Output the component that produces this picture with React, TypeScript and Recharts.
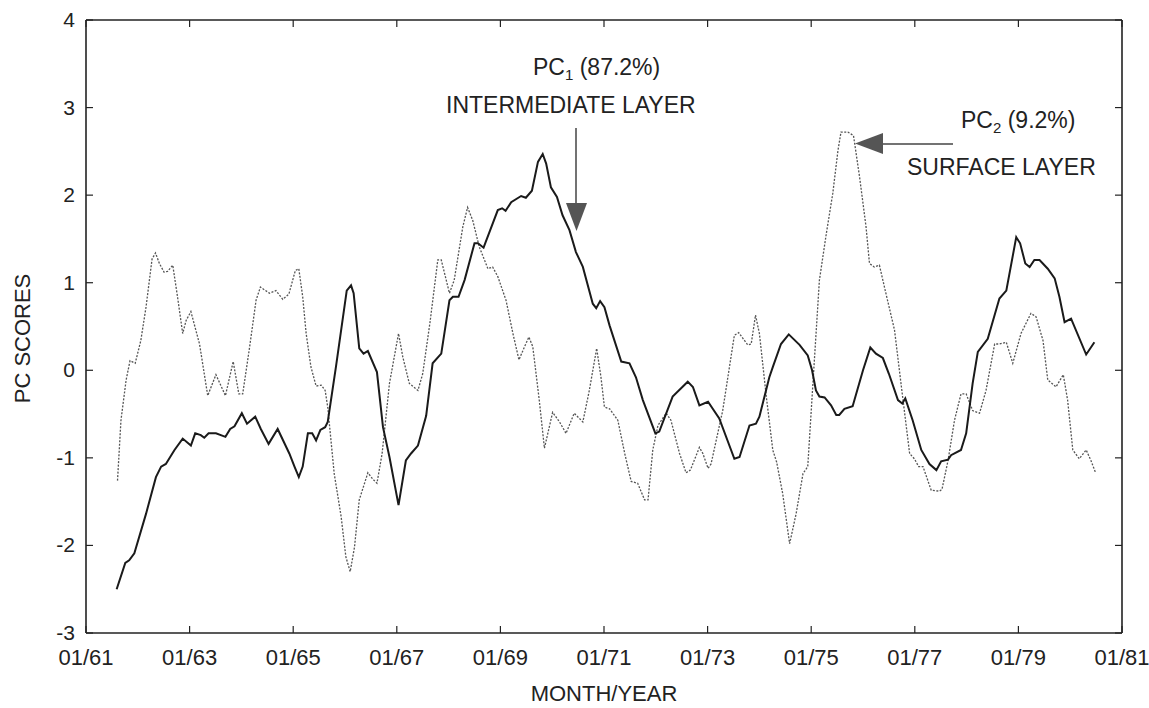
import { LineChart, Line, XAxis, YAxis, Customized } from 'recharts';

// months counted from 01/1961
const pc1Months = [
  7.1, 9.1, 10.0, 11.2, 13.9, 16.2, 17.4, 18.5, 20.5, 22.4, 24.3, 25.3, 26.6, 27.4, 28.4, 30.1,
  32.3, 33.4, 34.4, 36.1, 37.3, 39.2, 40.5, 42.3, 44.4, 47.1, 48.3, 49.3, 50.2, 51.4, 52.4, 53.3,
  54.3, 55.4, 56.0, 57.9, 60.4, 61.4, 62.0, 63.3, 64.3, 65.3, 67.4, 68.8, 70.3, 72.4, 74.1, 75.3,
  76.9, 78.8, 80.3, 82.3, 84.2, 85.0, 86.3, 87.7, 90.0, 90.8, 92.1, 95.4, 96.4, 97.2, 98.5, 100.8,
  101.9, 103.3, 104.7, 105.8, 106.6, 107.7, 109.1, 110.4, 112.0, 113.5, 115.1, 117.4, 118.2, 119.1,
  120.1, 121.3, 124.0, 125.9, 127.4, 129.0, 131.9, 132.8, 135.9, 139.4, 140.6, 142.1, 144.1, 146.7,
  150.2, 151.4, 153.7, 155.2, 156.0, 158.3, 159.2, 161.0, 162.8, 165.3, 167.2, 168.2, 169.1, 169.9,
  171.1, 172.6, 173.8, 174.5, 175.7, 177.6, 180.0, 181.7, 183.0, 184.6, 186.0, 188.1, 189.1, 189.8,
  191.5, 193.5, 195.4, 197.0, 198.1, 199.7, 200.4, 202.7, 203.9, 205.4, 206.6, 208.9, 211.6, 213.2,
  215.5, 216.4, 217.6, 218.6, 219.7, 220.9, 222.8, 224.4, 225.5, 226.7, 228.2, 231.7, 233.6,
];
const pc1Scores = [
  -2.5, -2.2, -2.17, -2.09, -1.64, -1.22, -1.1, -1.07, -0.91, -0.78, -0.86, -0.72, -0.74, -0.77, -0.72, -0.72,
  -0.76, -0.67, -0.64, -0.49, -0.61, -0.53, -0.67, -0.84, -0.67, -0.95, -1.1, -1.22, -1.1, -0.72, -0.72, -0.8,
  -0.68, -0.65, -0.59, 0.04, 0.91, 0.97, 0.88, 0.25, 0.19, 0.22, -0.02, -0.65, -0.99, -1.54, -1.03, -0.95,
  -0.86, -0.52, 0.08, 0.19, 0.8, 0.84, 0.84, 1.03, 1.45, 1.45, 1.4, 1.83, 1.85, 1.82, 1.92, 1.99,
  1.97, 2.05, 2.38, 2.47, 2.36, 2.09, 1.98, 1.77, 1.6, 1.35, 1.18, 0.76, 0.71, 0.79,
  0.72, 0.51, 0.1, 0.08, -0.08, -0.34, -0.72, -0.7, -0.3, -0.13, -0.19, -0.4, -0.36, -0.55,
  -1.01, -0.99, -0.63, -0.61, -0.53, -0.08, 0.05, 0.3, 0.41, 0.29, 0.17, 0.0, -0.23, -0.3,
  -0.31, -0.4, -0.51, -0.51, -0.44, -0.41, 0.0, 0.26, 0.19, 0.14, -0.04, -0.34, -0.38, -0.32,
  -0.57, -0.91, -1.07, -1.14, -1.04, -1.02, -0.97, -0.91, -0.72, -0.15, 0.21, 0.36, 0.82, 0.91,
  1.52, 1.45, 1.22, 1.18, 1.26, 1.26, 1.16, 1.05, 0.84, 0.55, 0.59, 0.18, 0.32,
];

const pc2Months = [
  7.3, 8.1, 9.3, 10.2, 11.4, 12.7, 13.9, 15.3, 16.1, 17.0, 18.1, 18.9, 20.1, 21.2, 22.4, 23.2,
  24.3, 26.3, 28.2, 30.1, 32.3, 34.1, 35.4, 36.3, 37.8, 39.4, 40.4, 42.5, 44.0, 45.6, 47.0, 48.5,
  49.3, 50.2, 51.0, 52.1, 53.3, 54.5, 55.4, 56.0, 57.5, 59.1, 60.2, 61.2, 62.2, 63.3, 65.3, 66.4,
  67.4, 68.6, 70.3, 72.4, 73.4, 74.9, 76.9, 78.0, 79.7, 81.5, 82.3, 84.2, 85.3, 87.3, 88.4, 89.6,
  91.1, 93.1, 94.2, 95.4, 97.3, 98.9, 100.3, 101.6, 102.6, 103.5, 105.0, 106.2, 108.1, 109.7, 111.2,
  113.1, 115.1, 116.6, 118.3, 119.3, 120.1, 121.3, 123.2, 124.8, 126.3, 127.8, 129.4, 130.2, 131.3,
  132.5, 134.4, 135.5, 137.5, 139.0, 140.0, 142.1, 142.9, 144.1, 144.8, 147.5, 150.2, 151.2, 153.3,
  154.1, 155.1, 156.0, 157.6, 159.1, 160.0, 161.4, 163.0, 164.5, 166.1, 167.2, 168.4, 169.9, 171.5,
  173.0, 174.2, 174.9, 176.5, 177.8, 179.2, 180.7, 181.5, 182.6, 183.8, 185.3, 187.3, 188.8, 190.8,
  191.9, 192.9, 193.9, 195.8, 197.7, 198.3, 199.7, 201.2, 202.7, 203.9, 205.4, 207.0, 208.5, 210.5,
  211.6, 213.2, 214.7, 216.6, 218.9, 220.1, 221.7, 222.8, 224.7, 226.4, 227.4, 228.6, 230.1, 231.7,
  232.8, 233.8,
];
const pc2Scores = [
  -1.26, -0.57, -0.11, 0.11, 0.08, 0.34, 0.72, 1.27, 1.34, 1.22, 1.12, 1.13, 1.2, 0.84, 0.42, 0.57,
  0.67, 0.3, -0.29, -0.05, -0.29, 0.1, -0.27, -0.27, 0.23, 0.8, 0.95, 0.88, 0.91, 0.81, 0.87, 1.14,
  1.16, 0.84, 0.42, 0.04, -0.18, -0.17, -0.23, -0.42, -1.18, -1.67, -2.13, -2.3, -2.02, -1.48, -1.17, -1.24,
  -1.29, -0.95, -0.15, 0.42, 0.15, -0.15, -0.23, -0.04, 0.55, 1.26, 1.26, 0.88, 1.03, 1.64, 1.86, 1.71,
  1.41, 1.16, 1.18, 1.07, 0.8, 0.42, 0.12, 0.27, 0.38, 0.27, -0.34, -0.89, -0.48, -0.59, -0.72,
  -0.49, -0.59, -0.23, 0.25, -0.08, -0.42, -0.44, -0.57, -0.95, -1.27, -1.29, -1.48, -1.48, -0.91,
  -0.63, -0.49, -0.57, -0.95, -1.17, -1.14, -0.88, -0.95, -1.12, -1.07, -0.46, 0.4, 0.43, 0.29,
  0.3, 0.63, 0.42, -0.3, -0.91, -1.05, -1.41, -1.98, -1.64, -1.18, -1.1, -0.15, 1.03, 1.56,
  2.02, 2.51, 2.72, 2.72, 2.68, 2.21, 1.64, 1.22, 1.18, 1.2, 0.88, 0.46, -0.15, -0.95,
  -1.01, -1.1, -1.1, -1.37, -1.38, -1.36, -1.03, -0.57, -0.27, -0.27, -0.46, -0.49, -0.23, 0.3,
  0.3, 0.32, 0.08, 0.42, 0.65, 0.61, 0.34, -0.11, -0.19, -0.05, -0.34, -0.91, -1.01, -0.91,
  -1.03, -1.16,
];

const monthTicks = [0, 24, 48, 72, 96, 120, 144, 168, 192, 216, 240];
const scoreTicks = [-3, -2, -1, 0, 1, 2, 3, 4];

const pc1Data = pc1Months.map((m, i) => ({ m, v: pc1Scores[i] }));
const pc2Data = pc2Months.map((m, i) => ({ m, v: pc2Scores[i] }));

const FONT = '"Liberation Sans", Arial, sans-serif';
const INK = '#222';
const TICK = 7;

const fmtMonth = (m: number) => `01/${61 + Math.round(m / 12)}`;

function BottomTick({ x, y, payload }: any) {
  return (
    <g>
      <line x1={x} y1={y} x2={x} y2={y - TICK} stroke={INK} strokeWidth={1.2} />
      <text x={x} y={y + 32} textAnchor="middle" fontFamily={FONT} fontSize={22} fill={INK}>
        {fmtMonth(payload.value)}
      </text>
    </g>
  );
}

function TopTick({ x, y }: any) {
  return <line x1={x} y1={y} x2={x} y2={y + TICK} stroke={INK} strokeWidth={1.2} />;
}

function LeftTick({ x, y, payload }: any) {
  return (
    <g>
      <line x1={x} y1={y} x2={x + TICK} y2={y} stroke={INK} strokeWidth={1.2} />
      <text x={x - 11} y={y + 7} textAnchor="end" fontFamily={FONT} fontSize={21} fill={INK}>
        {payload.value}
      </text>
    </g>
  );
}

function RightTick({ x, y }: any) {
  return <line x1={x} y1={y} x2={x - TICK} y2={y} stroke={INK} strokeWidth={1.2} />;
}

function Annotations() {
  const txt = { fontFamily: FONT, fontSize: 23, fill: INK };
  return (
    <g>
      <text x={533} y={75} {...txt}>
        PC<tspan fontSize={15} dy={5}>1</tspan>
        <tspan dy={-5}> (87.2%)</tspan>
      </text>
      <text x={446} y={113} {...txt}>INTERMEDIATE LAYER</text>
      <line x1={576} y1={128} x2={576} y2={204} stroke="#444" strokeWidth={1.5} />
      <polygon points="566,203 587,203 576.5,231" fill="#555" />

      <text x={961} y={128} {...txt}>
        PC<tspan fontSize={15} dy={5}>2</tspan>
        <tspan dy={-5}> (9.2%)</tspan>
      </text>
      <text x={907} y={175} {...txt}>SURFACE LAYER</text>
      <line x1={953} y1={144} x2={882} y2={144} stroke="#444" strokeWidth={1.5} />
      <polygon points="883,133 883,154 855,143.5" fill="#555" />
    </g>
  );
}

export default function App() {
  return (
    <div style={{ position: 'absolute', left: 0, top: 0, background: '#fff' }}>
      <LineChart width={1149} height={708} margin={{ top: 19, right: 26, bottom: 0, left: 0 }}>
        <XAxis
          dataKey="m"
          type="number"
          domain={[0, 240]}
          ticks={monthTicks}
          interval={0}
          height={75}
          tickSize={0}
          tickMargin={0}
          tick={<BottomTick />}
          axisLine={{ stroke: INK, strokeWidth: 1.6 }}
          allowDataOverflow
          label={{
            value: 'MONTH/YEAR',
            position: 'insideBottom',
            offset: 7,
            fontFamily: FONT,
            fontSize: 22,
            fill: INK,
          }}
        />
        <XAxis
          xAxisId="top"
          orientation="top"
          dataKey="m"
          type="number"
          domain={[0, 240]}
          ticks={monthTicks}
          interval={0}
          height={1}
          tickSize={0}
          tickMargin={0}
          tick={<TopTick />}
          axisLine={{ stroke: INK, strokeWidth: 1.6 }}
          allowDataOverflow
        />
        <YAxis
          type="number"
          domain={[-3, 4]}
          ticks={scoreTicks}
          interval={0}
          width={86}
          tickSize={0}
          tickMargin={0}
          tick={<LeftTick />}
          axisLine={{ stroke: INK, strokeWidth: 1.6 }}
          allowDataOverflow
          label={{
            content: ({ viewBox }: any) => {
              const cx = 22;
              const cy = viewBox.y + viewBox.height / 2 + 12;
              return (
                <text
                  x={cx}
                  y={cy}
                  transform={`rotate(-90, ${cx}, ${cy})`}
                  textAnchor="middle"
                  dominantBaseline="central"
                  fontFamily={FONT}
                  fontSize={22}
                  fill={INK}
                >
                  PC SCORES
                </text>
              );
            },
          }}
        />
        <YAxis
          yAxisId="right"
          orientation="right"
          type="number"
          domain={[-3, 4]}
          ticks={scoreTicks}
          interval={0}
          width={1}
          tickSize={0}
          tickMargin={0}
          tick={<RightTick />}
          axisLine={{ stroke: INK, strokeWidth: 1.6 }}
          allowDataOverflow
        />
        <Line
          data={pc2Data}
          dataKey="v"
          type="linear"
          stroke="#555"
          strokeWidth={1.3}
          strokeDasharray="2 1.5"
          dot={false}
          activeDot={false}
          isAnimationActive={false}
        />
        <Line
          data={pc1Data}
          dataKey="v"
          type="linear"
          stroke="#1a1a1a"
          strokeWidth={2}
          dot={false}
          activeDot={false}
          isAnimationActive={false}
        />
        <Customized component={Annotations} />
      </LineChart>
    </div>
  );
}
